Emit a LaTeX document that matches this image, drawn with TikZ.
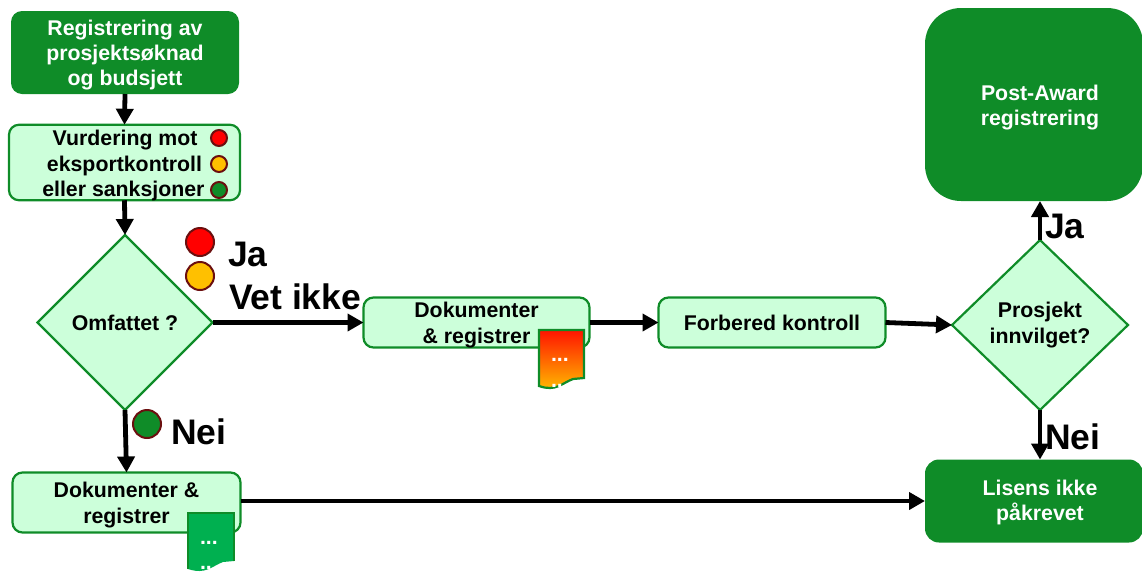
\documentclass[tikz,border=0pt]{standalone}
\usepackage{fontspec}
\setmainfont{Liberation Sans}
\usetikzlibrary{shapes.geometric,arrows.meta}
\definecolor{dg}{HTML}{0F8C28}
\definecolor{lg}{HTML}{CCFFDA}
\definecolor{fg}{HTML}{00B050}
\definecolor{rd}{HTML}{FF0000}
\definecolor{am}{HTML}{FFC000}
\definecolor{dk}{HTML}{6B0F0F}
\tikzset{
 x=1pt,y=-1pt,
 every node/.style={font=\fontsize{21.3}{25.3}\selectfont\bfseries,align=center,inner sep=0pt,outer sep=0pt},
 darkbox/.style={rectangle,rounded corners=11pt,fill=dg,text=white,minimum width=#1},
 lightbox/.style={rectangle,rounded corners=10pt,draw=dg,line width=2.2pt,fill=lg,text=black},
 dia/.style={diamond,draw=dg,line width=2.2pt,fill=lg,aspect=1},
 conn/.style={-{Triangle[length=16pt,width=17pt]},line width=4.8pt,black},
 big/.style={font=\fontsize{35.5}{40}\selectfont\bfseries},
 lamp/.style={circle,draw=dk,line width=2pt,minimum size=#1},
 docpage/.style={draw=dg,line width=2.2pt},
 dotlabel/.style={text=white,anchor=base west},
}
\begin{document}
\begin{tikzpicture}
\useasboundingbox (0,0) rectangle (1142,571);
% boxes
\node[darkbox=228pt,minimum height=83pt] (reg) at (125,52.5) {};
\node[text=white] (regt) at (125,55) {Registrering av\\prosjektsøknad\\og budsjett};
\node[lightbox,minimum width=231pt,minimum height=75.5pt] (vur) at (124.5,162.5) {};
\node[anchor=east] (v1) at (197.5,140) {Vurdering mot};
\node[anchor=east] (v2) at (202,165.5) {eksportkontroll};
\node[anchor=east] (v3) at (204.5,191) {eller sanksjoner};
\node[lamp=16pt,fill=rd] (l1) at (219,138) {};
\node[lamp=16pt,fill=am] (l2) at (219,164) {};
\node[lamp=16pt,fill=dg] (l3) at (219,190) {};
\node[dia,minimum width=175pt,minimum height=175pt] (omf) at (125,322.5) {Omfattet ?};
\node[dia,minimum width=176pt,minimum height=170pt] (inn) at (1040,325) {};
\node (innt) at (1040,325) {Prosjekt\\innvilget?};
\node[lightbox,minimum width=226pt,minimum height=50pt] (dok1) at (476.5,322.5) {};
\node (dok1t) at (476.5,325) {Dokumenter\\\& registrer};
\node[lightbox,minimum width=227pt,minimum height=50pt] (forb) at (772,322.5) {Forbered kontroll};
\node[lightbox,minimum width=228pt,minimum height=60pt] (dok2) at (126.5,502.5) {};
\node (dok2t) at (126.5,505) {Dokumenter \&\\registrer};
\node[rectangle,rounded corners=36pt,fill=dg,minimum width=218pt,minimum height=193pt] (post) at (1034,104.5) {};
\node[text=white] (postt) at (1040,107.5) {Post-Award\\registrering};
\node[rectangle,rounded corners=14pt,fill=dg,minimum width=218pt,minimum height=83pt] (lis) at (1034,501) {};
\node[text=white] (list) at (1040,502.5) {Lisens ikke\\påkrevet};
% lamps and labels
\node[lamp=28pt,fill=rd] (l4) at (200,242) {};
\node[lamp=28pt,fill=am] (l5) at (200,276) {};
\node[lamp=28pt,fill=dg] (l6) at (147,424) {};
\node[big,anchor=west] (ja1) at (228,254) {Ja};
\node[big,anchor=west] (vet) at (229,297) {Vet ikke};
\node[big,anchor=west] (nei1) at (171,432) {Nei};
\node[big,anchor=west] (ja2) at (1045,226) {Ja};
\node[big,anchor=west] (nei2) at (1045,437) {Nei};
% connectors
\draw[conn] (reg.south) -- (vur.north);
\draw[conn] (vur.south) -- (omf.north);
\draw[conn] (omf.east) -- (dok1.west);
\draw[conn] (dok1.east) -- (forb.west);
\draw[conn] (forb.east) -- (inn.west);
\draw[conn] (inn.north) -- (inn.north |- post.south);
\draw[conn] (inn.south) -- (inn.south |- lis.north);
\draw[conn] (omf.south) -- (dok2.north);
\draw[conn] (dok2.east |- lis.west) -- (lis.west);
% document icons
\shade[top color=red!90!am,bottom color=am,docpage] (539,330) -- (584,330) -- (584,378) -- (573,379) .. controls (562,383) and (556,392) .. (539,386) -- cycle;
\node[dotlabel] (d1t) at (551,361) {...};
\node[dotlabel] (d1u) at (551,387) {..};
\fill[fg] (188,513) -- (234,513) -- (234,561) -- (223,562) .. controls (212,566) and (206,575) .. (188,569) -- cycle;
\draw[docpage] (188,569) -- (188,513) -- (234,513) -- (234,561);
\node[dotlabel] (d2t) at (200,544) {...};
\node[dotlabel] (d2u) at (200,569) {..};
\end{tikzpicture}
\end{document}
